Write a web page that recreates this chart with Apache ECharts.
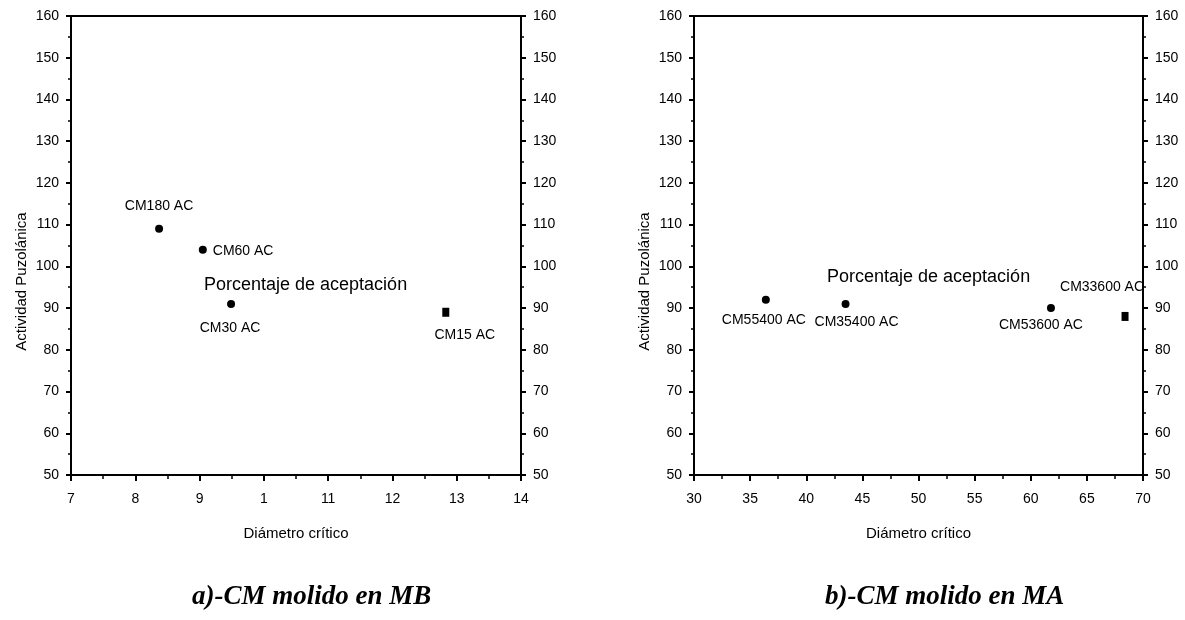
<!DOCTYPE html>
<html>
<head>
<meta charset="utf-8">
<script src="https://cdn.jsdelivr.net/npm/echarts@6/dist/echarts.min.js"></script>
<style>
html,body{margin:0;padding:0;background:#fff;}
#c{width:1185px;height:620px;}
</style>
</head>
<body>
<div id="c"></div>
<script>
// Panel a) - CM molido en MB
const namesA = ['CM180 AC', 'CM60 AC', 'CM30 AC', 'CM15 AC'];
const diamA = [8.37, 9.05, 9.49, 12.83];
const actA = [109, 104, 91, 89];
const xTicksA = ['7', '8', '9', '1', '11', '12', '13', '14'];

// Panel b) - CM molido en MA
const namesB = ['CM55400 AC', 'CM35400 AC', 'CM53600 AC', 'CM33600 AC'];
const diamB = [36.4, 43.5, 61.8, 68.4];
const actB = [92, 91, 90, 88];
const xTicksB = ['30', '35', '40', '45', '50', '55', '60', '65', '70'];

const yTicks = ['50', '60', '70', '80', '90', '100', '110', '120', '130', '140', '150', '160'];

const xTitle = 'Diámetro crítico';
const yTitle = 'Actividad Puzolánica';
const annot = 'Porcentaje de aceptación';
const captionA = 'a)-CM molido en MB';
const captionB = 'b)-CM molido en MA';

const FONT = '"Liberation Sans", Arial, sans-serif';
const axisLineStyle = { color: '#000', width: 2 };

// label placement (style only)
const labelPosA = [
  { position: 'top', distance: 12, offset: [0, 0] },
  { position: 'right', distance: 6, offset: [0, 1] },
  { position: 'bottom', distance: 13, offset: [-1, 0] },
  { position: 'bottom', distance: 11, offset: [19, 0] }
];
const labelPosB = [
  { position: 'bottom', distance: 9, offset: [-2, 0] },
  { position: 'bottom', distance: 7, offset: [11, 0] },
  { position: 'bottom', distance: 6, offset: [-10, 0] },
  { position: 'top', distance: 18, offset: [-23, 0] }
];

function pts(names, xs, ys, pos) {
  return xs.map((x, i) => ({
    value: [x, ys[i]],
    name: names[i],
    symbol: i === xs.length - 1 ? 'rect' : 'circle',
    symbolSize: i === xs.length - 1 ? [7, 9] : 8,
    label: {
      show: true,
      formatter: names[i],
      position: pos[i].position,
      distance: pos[i].distance,
      offset: pos[i].offset,
      color: '#000',
      fontFamily: FONT,
      fontSize: 14,
      letterSpacing: -0.8
    }
  }));
}

function xAxisDef(gridIndex, min, max, interval, ticks) {
  return {
    type: 'value', gridIndex, min, max, interval,
    name: xTitle, nameLocation: 'middle', nameGap: 51,
    nameTextStyle: { color: '#000', fontFamily: FONT, fontSize: 15, letterSpacing: -1 },
    axisLine: { show: true, onZero: false, lineStyle: axisLineStyle },
    axisTick: { show: true, length: 6, lineStyle: { color: '#000', width: 2 } },
    minorTick: { show: true, splitNumber: 2, length: 4, lineStyle: { color: '#000', width: 1.5 } },
    splitLine: { show: false },
    axisLabel: {
      color: '#000', fontFamily: FONT, fontSize: 14, margin: 17,
      formatter: v => {
        const idx = Math.round((v - min) / interval);
        return ticks[idx] !== undefined ? ticks[idx] : '';
      }
    }
  };
}

function yAxisDef(gridIndex, position, withName) {
  return {
    type: 'value', gridIndex, position, min: 50, max: 160, interval: 10,
    name: withName ? yTitle : '', nameLocation: 'middle', nameGap: 42,
    nameTextStyle: { color: '#000', fontFamily: FONT, fontSize: 15, letterSpacing: -1, padding: [0, 72, 0, 0] },
    axisLine: { show: true, onZero: false, lineStyle: axisLineStyle },
    axisTick: { show: true, length: 5, lineStyle: { color: '#000', width: 2 } },
    minorTick: { show: true, splitNumber: 2, length: 3, lineStyle: { color: '#000', width: 1.5 } },
    splitLine: { show: false },
    axisLabel: {
      color: '#000', fontFamily: FONT, fontSize: 14, margin: 12, letterSpacing: -1,
      formatter: v => yTicks[Math.round((v - 50) / 10)]
    }
  };
}

const chart = echarts.init(document.getElementById('c'), null, { renderer: 'canvas' });

chart.setOption({
  backgroundColor: '#fff',
  animation: false,
  grid: [
    { left: 71, top: 16, width: 450, height: 459, show: true, borderColor: '#000', borderWidth: 2, backgroundColor: 'transparent' },
    { left: 694, top: 16, width: 449, height: 459, show: true, borderColor: '#000', borderWidth: 2, backgroundColor: 'transparent' }
  ],
  xAxis: [
    xAxisDef(0, 7, 14, 1, xTicksA),
    xAxisDef(1, 30, 70, 5, xTicksB)
  ],
  yAxis: [
    yAxisDef(0, 'left', true),
    yAxisDef(0, 'right', false),
    yAxisDef(1, 'left', true),
    yAxisDef(1, 'right', false)
  ],
  series: [
    {
      type: 'scatter', xAxisIndex: 0, yAxisIndex: 0,
      itemStyle: { color: '#000', opacity: 1 },
      data: pts(namesA, diamA, actA, labelPosA)
    },
    {
      type: 'scatter', xAxisIndex: 1, yAxisIndex: 2,
      itemStyle: { color: '#000', opacity: 1 },
      data: pts(namesB, diamB, actB, labelPosB)
    }
  ],
  graphic: [
    { type: 'text', left: 204, top: 276, style: { text: annot, fill: '#000', font: '18px "Liberation Sans", Arial, sans-serif' } },
    { type: 'text', left: 827, top: 268, style: { text: annot, fill: '#000', font: '18px "Liberation Sans", Arial, sans-serif' } },
    { type: 'text', left: 192, top: 584, style: { text: captionA, fill: '#000', font: 'italic bold 27px "Liberation Serif", "Times New Roman", serif' } },
    { type: 'text', left: 825, top: 584, style: { text: captionB, fill: '#000', font: 'italic bold 27px "Liberation Serif", "Times New Roman", serif' } }
  ]
});
</script>
</body>
</html>
